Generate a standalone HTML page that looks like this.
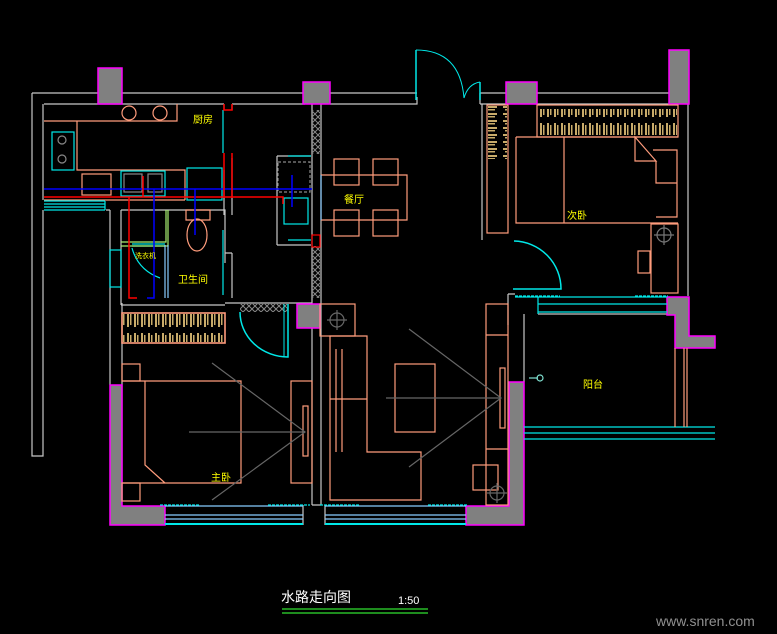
<!DOCTYPE html>
<html><head><meta charset="utf-8"><style>
html,body{margin:0;padding:0;background:#000;}
svg{display:block}
text{font-family:"Liberation Sans","Noto Sans CJK SC",sans-serif;}
</style></head><body>
<svg width="777" height="634" viewBox="0 0 777 634" xmlns="http://www.w3.org/2000/svg" fill="none" stroke-width="1.2">
<rect width="777" height="634" fill="#000"/>
<defs>
<pattern id="tan" width="7" height="30" patternUnits="userSpaceOnUse">
<rect x="1" y="3" width="2" height="24" fill="#c8ab6a"/><rect x="4" y="5" width="1.5" height="20" fill="#c8ab6a"/>
</pattern>
<pattern id="tanh" width="20" height="7" patternUnits="userSpaceOnUse">
<rect x="3" y="1" width="14" height="2" fill="#c8ab6a"/><rect x="5" y="4" width="10" height="1.5" fill="#c8ab6a"/>
</pattern>
<pattern id="grh" width="6" height="6" patternUnits="userSpaceOnUse">
<path d="M0 3 L3 0 L6 3 L3 6Z" stroke="#888" stroke-width="1"/>
</pattern>
</defs>
<g stroke="#c8c8c8">
<path d="M32 93 H417 M44 104 H224 M32 93 V456 H43 V210 M43 104 V200"/>
<path d="M232 104 H305 M330 104 H417 V97"/>
<path d="M480 93 H669 M480 104 H506 M537 104 H669 M480 93 V104"/>
<path d="M110 210 V385 M106 210 H110"/>
<path d="M224 104 V110 M232 104 V110 M232 158 V215 M224 170 V215"/>
<path d="M312 104 V505 M321 104 V505"/>
<path d="M225 303 H312 M232 253 V298 M225 253 H232"/>
<path d="M482 104 V240 M688 104 V296"/>
<path d="M524 314 V382 M508 294 V325 M508 294 H515"/>
<path d="M538 314 H667 M312 505 H321 M303 505 V525 M325 505 V525"/>
<path d="M122 303 V500"/>
<path d="M121 210 H225 V263 M121 210 V305 M121 305 H225"/>
<path d="M277 156 V245 M277 156 H311 M277 245 H311"/>
</g>
<g fill="#808080" stroke="#ff00ff" stroke-width="1.5">
<rect x="98" y="68" width="24" height="36"/>
<rect x="303" y="82" width="27" height="22"/>
<rect x="506" y="82" width="31" height="22"/>
<rect x="669" y="50" width="20" height="54"/>
<rect x="297" y="304" width="23" height="24"/>
<path d="M667 297 H689 V336 H715 V348 H675 V315 H667Z"/>
<path d="M110 385 H122 V506 H165 V525 H110Z"/>
<path d="M509 382 H524 V525 H466 V506 H509Z"/>
</g>
<rect x="312" y="110" width="8" height="44" fill="url(#grh)"/>
<rect x="312" y="246" width="8" height="52" fill="url(#grh)"/>
<rect x="240" y="304" width="48" height="8" fill="url(#grh)"/>
<g stroke="#ff9c7c">
<path d="M44 121 H177 V104 M77 121 V170 H185 V200"/>
<circle cx="129" cy="113" r="7"/><circle cx="160" cy="113" r="7"/>
<rect x="82" y="174" width="29" height="21"/>
<path d="M44 200 H185"/>
</g>
<g stroke="#00e8e8">
<rect x="52" y="132" width="22" height="38"/>
<rect x="121" y="171" width="44" height="25"/>
<rect x="187" y="168" width="35" height="32"/>
<path d="M44 201 H105 M44 204 H105 M44 207 H105 M44 210 H105 M105 201 V210"/>
<path d="M223 110 V153 M223 230 V295"/>
<rect x="110" y="250" width="11" height="37"/>
<path d="M132 244 H165 M132 246 H165 M132 248 Q138 270 160 278"/>
<rect x="284" y="198" width="24" height="26"/>
<path d="M288 156 H311 M288 240 H311"/>
</g>
<g stroke="#888"><rect x="124" y="174" width="18" height="18"/><rect x="148" y="174" width="14" height="18"/>
<rect x="278" y="162" width="32" height="30" stroke-dasharray="3 2"/>
<circle cx="62" cy="140" r="4"/><circle cx="62" cy="159" r="4"/></g>
<g stroke="#ff9c7c">
<path d="M186 210 H210 V220 H186Z"/>
<ellipse cx="197" cy="235" rx="10" ry="16"/>
</g>
<path d="M121 242 H166 V210 M121 246 H168 V210" stroke="#a8f070"/>
<path d="M165 245 V298 M168 245 V298" stroke="#88ccff"/>
<path d="M44 189 H312" stroke="#0000ff" stroke-width="1.5"/>
<path d="M44 197 H283 V204" stroke="#ff0000" stroke-width="1.5"/>
<path d="M154 189 V298 H147 M195 189 V235 M292 175 V207" stroke="#0000ff" stroke-width="1.5"/>
<path d="M129 197 V298 H137 M143 176 V197 M224 104 V110 H232 V104 M224 153 V198 M232 153 V198" stroke="#ff0000" stroke-width="1.5"/>
<rect x="312" y="235" width="8" height="12" stroke="#ff0000"/>
<g stroke="#ff9c7c">
<rect x="334" y="159" width="25" height="26"/><rect x="373" y="159" width="25" height="26"/>
<rect x="334" y="210" width="25" height="26"/><rect x="373" y="210" width="25" height="26"/>
<path d="M321 175 H407 V220 H321"/>
</g>
<path d="M321 175 V220" stroke="#88ccff"/>
<g stroke="#00e8e8" stroke-width="1.5">
<path d="M416 50 V100 M480 82 V100"/>
<path d="M416 50 Q460 50 464 98 Q468 84 480 82" stroke-width="1"/>
<path d="M514 241 A48 48 0 0 1 561 289 H513"/>
<path d="M240 312 A48 45 0 0 0 288 357 V304"/>
<path d="M284 304 V356" stroke-width="1"/>
</g>
<g stroke="#ff9c7c">
<rect x="487" y="105" width="21" height="128"/>
<rect x="537" y="105" width="141" height="32"/>
<path d="M516 137 H678 M516 137 V223 H678 M564 137 V223"/>
<path d="M635 137 V161 H656 Z M653 150 H677 V183 H656 V161 M656 183 H677 V217 H656"/>
<rect x="651" y="224" width="27" height="69"/>
<rect x="638" y="251" width="12" height="22"/>
</g>
<rect x="488" y="106" width="19" height="53" fill="url(#tanh)"/>
<rect x="538" y="109" width="139" height="26" fill="url(#tan)"/>
<rect x="123" y="314" width="101" height="28" fill="url(#tan)"/>
<circle cx="664" cy="235" r="7" stroke="#777"/><path d="M654 235 H674 M664 225 V245" stroke="#777"/>
<g stroke="#00e8e8"><path d="M515 297 H667 M538 304 H667 M538 312 H667 M538 297 V314"/></g>
<g stroke="#ff9c7c">
<rect x="122" y="313" width="103" height="30" stroke-width="1.6"/>
<rect x="122" y="364" width="18" height="17"/>
<path d="M122 381 H241 V483 H122 M145 381 V465 L165 483"/>
<rect x="122" y="483" width="18" height="18"/>
<rect x="291" y="381" width="21" height="102"/>
<rect x="303" y="406" width="5" height="50"/>
<rect x="320" y="304" width="35" height="32"/>
<path d="M330 336 H367 V452 H421 V500 H330Z M330 349 V500 M336 349 V452 M342 349 V452 M330 399 H367"/>
<rect x="395" y="364" width="40" height="68"/>
<rect x="486" y="304" width="22" height="201"/>
<path d="M486 335 H508 M486 449 H508"/>
<rect x="473" y="465" width="25" height="25"/>
<rect x="500" y="368" width="5" height="60"/>
</g>
<g stroke="#666">
<path d="M212 363 L305 432 L212 500 M189 432 H305 M409 329 L501 398 L409 467 M386 398 H501"/>
<circle cx="337" cy="320" r="7"/><path d="M327 320 H347 M337 310 V330"/>
<circle cx="497" cy="493" r="7"/><path d="M487 493 H507 M497 483 V503"/>
</g>
<g stroke="#88ccff"><path d="M165 506 H303 M325 506 H466 M165 515 H303 M325 515 H466 M165 519 H303 M325 519 H466"/></g>
<path d="M165 524 H303 M325 524 H466" stroke="#00e8e8" stroke-width="2"/>
<g stroke="#00e8e8" stroke-dasharray="3 1"><path d="M160 505 H200 M268 505 H310 M320 505 H360 M428 505 H468 M515 296 H560 M635 296 H668"/></g>
<g stroke="#00e8e8"><path d="M524 427 H715 M524 433 H715 M524 439 H715"/></g>
<g stroke="#ff9c7c"><path d="M675 348 V427 M684 348 V427 M687 348 V427"/></g>
<path d="M529 378 H538" stroke="#7fe0d0"/><circle cx="540" cy="378" r="3" stroke="#7fe0d0"/>
<g fill="#ffff00" font-size="10">
<text x="193" y="123">厨房</text>
<text x="178" y="283">卫生间</text>
<text x="135" y="258" font-size="7">洗衣机</text>
<text x="344" y="203">餐厅</text>
<text x="567" y="219">次卧</text>
<text x="211" y="481">主卧</text>
<text x="583" y="388">阳台</text>
</g>
<text x="281" y="602" fill="#fff" font-size="14">水路走向图</text>
<text x="398" y="604" fill="#fff" font-size="11">1:50</text>
<path d="M282 609 H428 M282 613 H428" stroke="#30e030"/>
<text x="656" y="626" fill="#909090" font-size="14" font-family="Liberation Serif,serif">www.snren.com</text>
</svg>
</body></html>
